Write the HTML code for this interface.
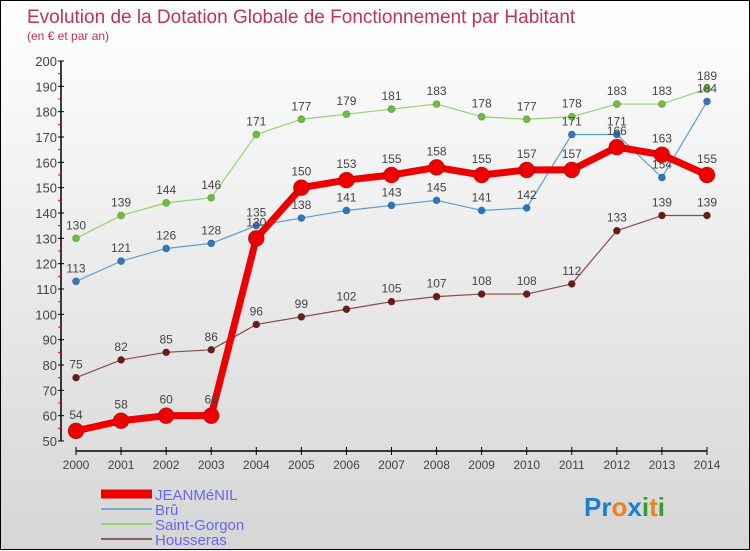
<!DOCTYPE html>
<html><head><meta charset="utf-8"><style>
html,body{margin:0;padding:0}
body{width:750px;height:550px;overflow:hidden}
#wrap{position:relative;width:748px;height:548px;border:1px solid #000;background:linear-gradient(#ffffff,#d6d6d6);font-family:"Liberation Sans",sans-serif}
svg{position:absolute;left:0;top:0}
</style></head><body>
<div id="wrap">
<svg id="chart" width="750" height="550">
<text x="26" y="22" font-size="19" fill="#c2305c">Evolution de la Dotation Globale de Fonctionnement par Habitant</text>
<text x="26" y="39" font-size="12" fill="#c2305c">(en € et par an)</text>
<g id="axes"></g><g id="series"></g><g id="legend"></g>
<text x="583" y="515" font-size="26" font-weight="bold"><tspan fill="#1a7fd0">Pr</tspan><tspan fill="#f08020">o</tspan><tspan fill="#1a7fd0">x</tspan><tspan fill="#30a030">i</tspan><tspan fill="#f08020">t</tspan><tspan fill="#30a030">i</tspan></text>
</svg>
</div>
<script>
const years=[2000,2001,2002,2003,2004,2005,2006,2007,2008,2009,2010,2011,2012,2013,2014];
const yTicks=[50,60,70,80,90,100,110,120,130,140,150,160,170,180,190,200];
const jeanmenil=[54,58,60,60,130,150,153,155,158,155,157,157,166,163,155];
const bru=[113,121,126,128,135,138,141,143,145,141,142,171,171,154,184];
const saintGorgon=[130,139,144,146,171,177,179,181,183,178,177,178,183,183,189];
const housseras=[75,82,85,86,96,99,102,105,107,108,108,112,133,139,139];
const NS="http://www.w3.org/2000/svg";
function X(i){return 75+i*(706-75)/(years.length-1);}
function Y(v){return 440-(v-50)*(380/150);}
function mk(tag,attrs,parent){const e=document.createElementNS(NS,tag);for(const k in attrs)e.setAttribute(k,attrs[k]);parent.appendChild(e);return e;}
const axes=document.getElementById('axes');
let l=mk('line',{x1:60,y1:Y(200),x2:60,y2:Y(50),stroke:'#000','stroke-width':1.5},axes);


yTicks.forEach((v,k)=>{
 let t=mk('line',{x1:57,y1:Y(v),x2:63,y2:Y(v),stroke:'#000'},axes);
 
 
 if(k<yTicks.length-1){let m=mk('line',{x1:57,y1:Y(v+5),x2:60,y2:Y(v+5),stroke:'#e00'},axes);
 
 }
 let tx=mk('text',{x:56,y:Y(v)+5,'text-anchor':'end','font-size':13,fill:'#444'},axes);tx.textContent=v;
 
 
});
l=mk('line',{x1:75,y1:450,x2:706,y2:450,stroke:'#000','stroke-width':1.5},axes);


years.forEach((yr,i)=>{
 let t=mk('line',{x1:X(i),y1:446,x2:X(i),y2:454,stroke:'#000'},axes);
 
 
 let tx=mk('text',{x:X(i),y:468,'text-anchor':'middle','font-size':12,fill:'#444'},axes);tx.textContent=yr;
 
 
});
const ser=document.getElementById('series');
function draw(vals,color,dot,w,r,name){
 const g=mk('g',{},ser);
 
 
 const p=mk('polyline',{points:vals.map((v,i)=>X(i)+','+Y(v)).join(' '),fill:'none',stroke:color,'stroke-width':w,'stroke-linejoin':'round'},g);
 
 
 vals.forEach((v,i)=>{
  const c=mk('circle',{cx:X(i),cy:Y(v),r:r,fill:dot,stroke:'rgba(0,0,0,0.3)','stroke-width':0.7},g);
  
  
  const t=mk('text',{x:X(i),y:Y(v)-9-(r>5?3:0),'text-anchor':'middle','font-size':12,fill:'#444'},g);t.textContent=v;
  
  
 });
}
draw(housseras,'#8b4a4a','#6b1a1a',1.2,3.5,'housseras');
draw(saintGorgon,'#8fd66a','#6cc03c',1.2,3.5,'saint-gorgon');
draw(bru,'#5a9fd4','#2a78c0',1.2,3.5,'bru');
draw(jeanmenil,'#ee0000','#ee0000',7,8,'jeanmenil');
const leg=document.getElementById('legend');
[['JEANMéNIL','#ee0000',9],['Brû','#7aaad0',2],['Saint-Gorgon','#90d870',2],['Housseras','#8b5a5a',2]].forEach((e,k)=>{
 const y=493+k*15;
 const g=mk('g',{},leg);
 
 
 mk('line',{x1:100,y1:y,x2:151,y2:y,stroke:e[1],'stroke-width':e[2]},g);
 const t=mk('text',{x:154,y:y+6,'font-size':15,fill:'#6666ee'},g);t.textContent=e[0];
});
</script>
</body></html>
